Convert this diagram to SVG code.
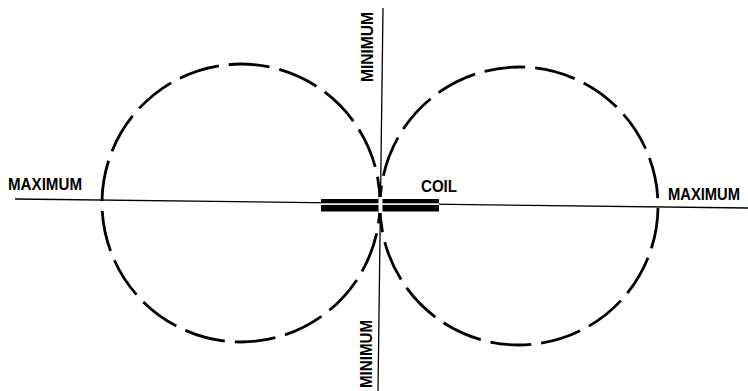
<svg xmlns="http://www.w3.org/2000/svg" width="748" height="391" viewBox="0 0 748 391">
<style>
.axis{stroke:#000;stroke-width:1.3;fill:none}
.lobe{stroke:#000;stroke-width:2.8;fill:none;stroke-dasharray:41 10;stroke-dashoffset:20.5}
.lbl{font-family:"Liberation Sans",Arial,sans-serif;font-weight:bold;font-size:16.5px;fill:#000}
</style>
<rect width="748" height="391" fill="#fff"/>
<g id="connectors">
<line class="axis" x1="15" y1="199" x2="748" y2="208"/>
<line class="axis" x1="383" y1="8" x2="378" y2="391"/>
</g>
<g id="lobe-left">
<circle class="lobe" cx="241" cy="203" r="139"/>
</g>
<g id="lobe-right">
<circle class="lobe" cx="519" cy="206" r="139" transform="rotate(180 519 206)"/>
</g>
<g id="coil">
<rect x="321" y="199" width="118" height="12.5" fill="#000"/>
<rect x="321" y="203.3" width="118" height="1.6" fill="#fff"/>
<rect x="378.5" y="197" width="4" height="16" fill="#fff"/>
<text class="lbl" x="421" y="192" textLength="36" lengthAdjust="spacingAndGlyphs">COIL</text>
</g>
<g id="label-max-left">
<text class="lbl" x="8" y="190" textLength="74" lengthAdjust="spacingAndGlyphs">MAXIMUM</text>
</g>
<g id="label-max-right">
<text class="lbl" x="668" y="200" textLength="72" lengthAdjust="spacingAndGlyphs">MAXIMUM</text>
</g>
<g id="label-min-top">
<text class="lbl" transform="translate(373 82) rotate(-90)" textLength="70" lengthAdjust="spacingAndGlyphs">MINIMUM</text>
</g>
<g id="label-min-bottom">
<text class="lbl" transform="translate(372 388) rotate(-90)" textLength="68" lengthAdjust="spacingAndGlyphs">MINIMUM</text>
</g>
</svg>
